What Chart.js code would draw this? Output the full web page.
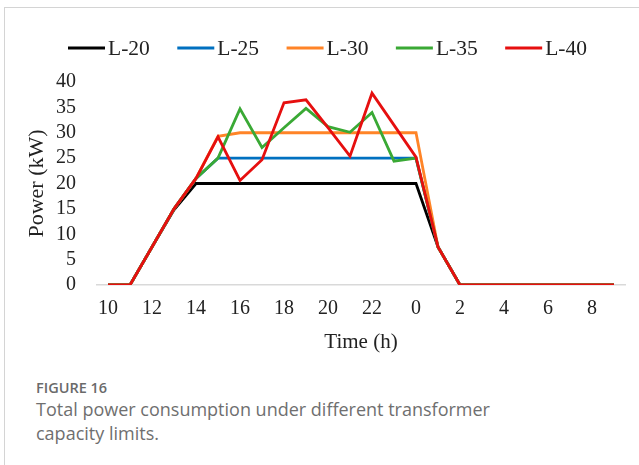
<!DOCTYPE html>
<html>
<head>
<meta charset="utf-8">
<script src="https://cdn.jsdelivr.net/npm/chart.js@4.4.1/dist/chart.umd.min.js"></script>
<style>
  html, body { margin: 0; padding: 0; background: #fff; }
  body { width: 639px; height: 465px; position: relative; overflow: hidden; }
  #frame { position: absolute; left: 4px; top: 7px; right: -2px; bottom: -2px;
           border-top: 1px solid #d4d4d4; border-left: 1px solid #d4d4d4; }
  #wrap { position: absolute; left: 0; top: 0; width: 639px; height: 360px; }
  #caption { position: absolute; left: 36px; top: 378px; font-family: "Open Sans", "Noto Sans", sans-serif; color: #666; }
  #caption .fig { font-size: 14.5px; font-weight: 600; color: #6a6a6a; line-height: 19px; }
  #caption .txt { font-size: 18px; line-height: 24px; color: #6f6f6f; margin-top: 0px; }
</style>
</head>
<body>
<div id="frame"></div>
<div id="wrap"><canvas id="c" width="639" height="360"></canvas></div>
<div id="caption">
  <div class="fig">FIGURE 16</div>
  <div class="txt">Total power consumption under different transformer<br>capacity limits.</div>
</div>
<script>
// Hours of the day, starting at 10:00 and wrapping past midnight
const hours = ['10','11','12','13','14','15','16','17','18','19','20','21','22','23',
               '0','1','2','3','4','5','6','7','8','9'];
const seriesNames = ['L-20', 'L-25', 'L-30', 'L-35', 'L-40'];
const seriesColors = ['#000000', '#0070c0', '#ff8427', '#3aa935', '#e60f0f'];

// Total power (kW) for each transformer capacity limit
const L20 = [0, 0, 7.5, 14.8, 20, 20, 20, 20, 20, 20, 20, 20, 20, 20, 20, 7.5, 0, 0, 0, 0, 0, 0, 0, 0];
const L25 = [0, 0, 7.5, 15, 21, 25, 25, 25, 25, 25, 25, 25, 25, 25, 25, 7.5, 0, 0, 0, 0, 0, 0, 0, 0];
const L30 = [0, 0, 7.5, 15, 21, 29.3, 30, 30, 30, 30, 30, 30, 30, 30, 30, 7.5, 0, 0, 0, 0, 0, 0, 0, 0];
const L35 = [0, 0, 7.5, 15, 21, 25, 34.7, 27.1, 31, 34.8, 31.2, 30.1, 34, 24.4, 25, 7.5, 0, 0, 0, 0, 0, 0, 0, 0];
const L40 = [0, 0, 7.5, 15, 21, 29.2, 20.6, 24.7, 35.9, 36.5, 31, 25.4, 37.8, 31.5, 25.2, 7.5, 0, 0, 0, 0, 0, 0, 0, 0];
const seriesValues = [L20, L25, L30, L35, L40];

const SERIF = '"Liberation Serif", "Times New Roman", serif';

// Legend drawn as a single row of line samples followed by their labels
const lineLegend = {
  id: 'lineLegend',
  afterDraw(chart) {
    const ctx = chart.ctx;
    ctx.save();
    ctx.font = '21.5px ' + SERIF;
    ctx.textBaseline = 'middle';
    let x = 68;
    const y = 48;
    chart.data.datasets.forEach(ds => {
      ctx.strokeStyle = ds.borderColor;
      ctx.lineWidth = 3;
      ctx.beginPath();
      ctx.moveTo(x, y);
      ctx.lineTo(x + 37, y);
      ctx.stroke();
      x += 40;
      ctx.fillStyle = '#222';
      ctx.fillText(ds.label, x, y + 1);
      x += ctx.measureText(ds.label).width + 27.5;
    });
    ctx.restore();
  }
};

const datasets = seriesNames.map((name, i) => ({
  label: name,
  data: seriesValues[i],
  borderColor: seriesColors[i],
  backgroundColor: seriesColors[i],
  borderWidth: 2.8,
  pointRadius: 0,
  tension: 0,
  fill: false,
  order: seriesNames.length - i
}));

new Chart(document.getElementById('c'), {
  type: 'line',
  data: { labels: hours, datasets },
  options: {
    responsive: false,
    animation: false,
    layout: { padding: { top: 82, right: 14, left: 0, bottom: 0 } },
    plugins: { legend: { display: false }, tooltip: { enabled: false } },
    scales: {
      x: {
        offset: true,
        grid: { display: false, drawTicks: false },
        border: { display: true, color: '#d9d9d9', width: 1.5 },
        ticks: {
          autoSkip: false, maxRotation: 0, padding: 12,
          color: '#222', font: { family: SERIF, size: 20 },
          callback: (v, i) => (i % 2 === 0 ? hours[i] : '')
        },
        title: { display: true, text: 'Time (h)', color: '#222',
                 font: { family: SERIF, size: 21 }, padding: { top: 0, bottom: 5 } },
        afterFit: s => { s.height = 75; }
      },
      y: {
        min: 0, max: 40,
        grid: { display: false, drawTicks: false },
        border: { display: false },
        ticks: { stepSize: 5, autoSkip: false, padding: 21, color: '#222', font: { family: SERIF, size: 20 } },
        title: { display: true, text: 'Power (kW)', color: '#222',
                 font: { family: SERIF, size: 22 }, padding: { top: 24, bottom: 0 } },
        afterFit: s => { s.width = 97; }
      }
    }
  },
  plugins: [lineLegend]
});
</script>
</body>
</html>
